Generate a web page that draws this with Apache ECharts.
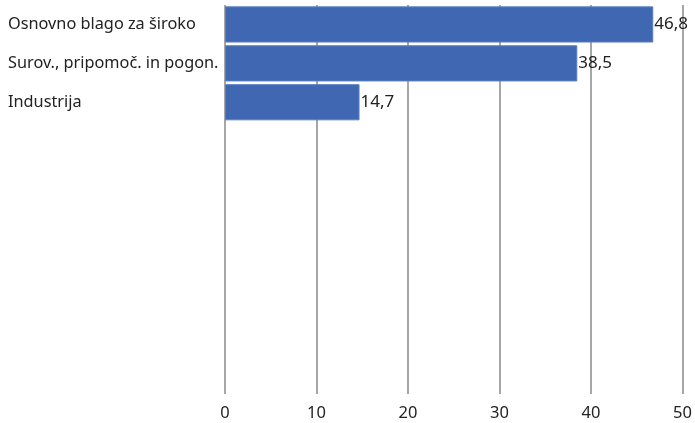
<!DOCTYPE html>
<html><head><meta charset="utf-8">
<script src="https://cdn.jsdelivr.net/npm/echarts@6/dist/echarts.min.js"></script>
<style>html,body{margin:0;padding:0;background:#fff}#c{width:695px;height:423px}</style>
</head><body><div id="c"></div>
<script>
const categories = ["Osnovno blago za široko", "Surov., pripomoč. in pogon.", "Industrija"];
const values = [46.8, 38.5, 14.7];
const xTicks = [0, 10, 20, 30, 40, 50];

const chart = echarts.init(document.getElementById('c'));
chart.setOption({
  animation: false,
  grid: { left: 225, right: 9, top: 5, height: 389, containLabel: false },
  xAxis: {
    type: 'value', min: xTicks[0], max: xTicks[xTicks.length - 1], interval: 10,
    axisLine: { show: false }, axisTick: { show: false },
    axisLabel: { color: '#222', fontSize: 16.5, fontFamily: 'Noto Sans', margin: 11 },
    splitLine: { show: true, lineStyle: { color: '#a6a6a6', width: 2 } }
  },
  yAxis: {
    type: 'category', inverse: true, data: categories, max: 9,
    axisLine: { show: false }, axisTick: { show: false },
    axisLabel: { align: 'left', margin: 217, color: '#222', fontSize: 16.3, fontFamily: 'Noto Sans' }
  },
  series: [{
    type: 'bar', data: values, barCategoryGap: '7%',
    itemStyle: { color: '#4068b2', borderColor: '#5a7fc0', borderWidth: 1 },
    label: { show: true, position: 'right', distance: 1, color: '#222', fontSize: 17, fontFamily: 'Noto Sans',
      formatter: p => String(p.value).replace('.', ',') }
  }]
});
</script></body></html>
